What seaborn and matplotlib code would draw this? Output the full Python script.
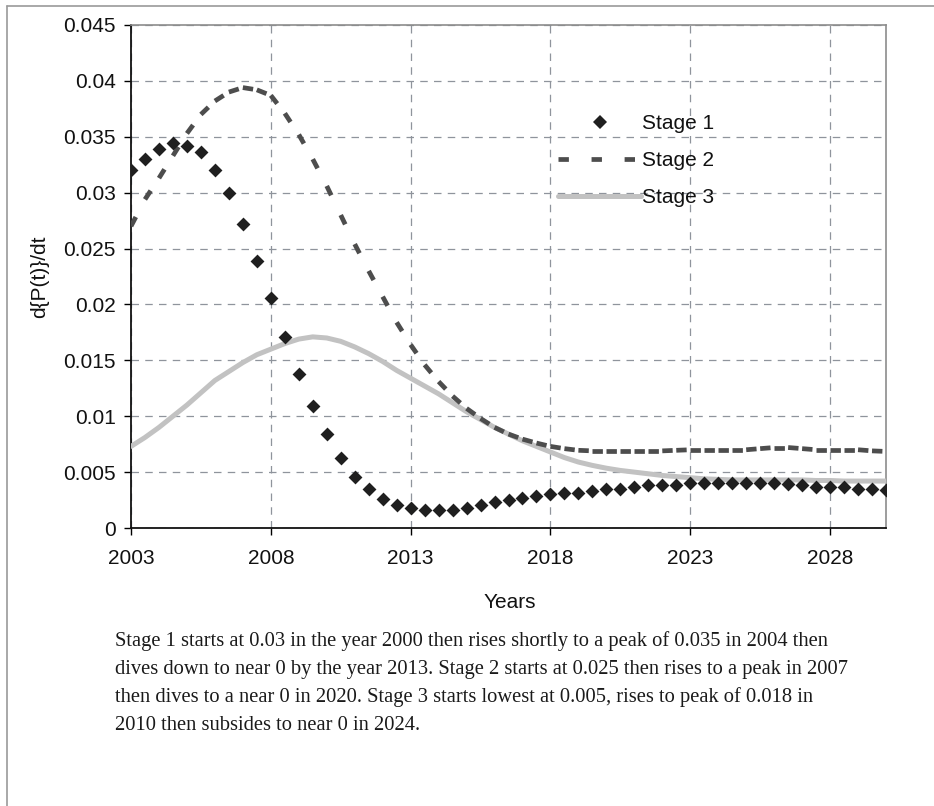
import numpy as np
import pandas as pd
import seaborn as sns
import matplotlib.pyplot as plt
from matplotlib.lines import Line2D
from matplotlib.ticker import FuncFormatter

# half-year points, 2003 .. 2030
years = [2003.0, 2003.5, 2004.0, 2004.5, 2005.0, 2005.5, 2006.0, 2006.5, 2007.0, 2007.5,
         2008.0, 2008.5, 2009.0, 2009.5, 2010.0, 2010.5, 2011.0, 2011.5, 2012.0, 2012.5,
         2013.0, 2013.5, 2014.0, 2014.5, 2015.0, 2015.5, 2016.0, 2016.5, 2017.0, 2017.5,
         2018.0, 2018.5, 2019.0, 2019.5, 2020.0, 2020.5, 2021.0, 2021.5, 2022.0, 2022.5,
         2023.0, 2023.5, 2024.0, 2024.5, 2025.0, 2025.5, 2026.0, 2026.5, 2027.0, 2027.5,
         2028.0, 2028.5, 2029.0, 2029.5, 2030.0]

stage1 = [0.0320, 0.0330, 0.0339, 0.0344, 0.0342, 0.0336, 0.0320, 0.0300, 0.0272, 0.0239,
          0.0206, 0.0171, 0.0138, 0.0109, 0.0084, 0.0063, 0.0046, 0.0035, 0.0026, 0.00205,
          0.0018, 0.0016, 0.0016, 0.0016, 0.0018, 0.0021, 0.00235, 0.0025, 0.00265, 0.00285,
          0.0030, 0.0031, 0.00315, 0.00335, 0.0035, 0.0035, 0.00365, 0.00385, 0.00385, 0.00385,
          0.00405, 0.00405, 0.00405, 0.00405, 0.00405, 0.00405, 0.0040, 0.0039, 0.00385, 0.0037,
          0.0037, 0.00365, 0.0035, 0.0035, 0.0034]

stage2 = [0.0270, 0.0294, 0.0313, 0.0333, 0.0353, 0.0370, 0.0382, 0.0390, 0.0394, 0.0392,
          0.0387, 0.0371, 0.0352, 0.0330, 0.0306, 0.0280, 0.0254, 0.0230, 0.0207, 0.0184,
          0.0164, 0.0146, 0.0131, 0.0118, 0.0107, 0.0098, 0.0090, 0.0084, 0.00795, 0.0076,
          0.0073, 0.0071, 0.00695, 0.0069, 0.0069, 0.0069, 0.0069, 0.0069, 0.0069, 0.00695,
          0.0070, 0.0070, 0.0070, 0.0070, 0.0070, 0.0071, 0.0072, 0.0072, 0.0071, 0.0070,
          0.0070, 0.0070, 0.0070, 0.0069, 0.00685]

stage3 = [0.0073, 0.0081, 0.0090, 0.0100, 0.0110, 0.0121, 0.0132, 0.0140, 0.0148, 0.0155,
          0.0160, 0.0165, 0.0169, 0.0171, 0.0170, 0.0167, 0.0162, 0.0156, 0.0149, 0.0141,
          0.0134, 0.0127, 0.0120, 0.0112, 0.0104, 0.0097, 0.0090, 0.0084, 0.0078, 0.0073,
          0.0068, 0.0063, 0.0059, 0.0056, 0.00535, 0.00515, 0.0050, 0.00485, 0.0047, 0.0046,
          0.0045, 0.0044, 0.00435, 0.0043, 0.0043, 0.0043, 0.0043, 0.0043, 0.0043, 0.00425,
          0.00425, 0.0042, 0.0042, 0.0042, 0.0042]

xticks = [2003, 2008, 2013, 2018, 2023, 2028]
yticks = [0, 0.005, 0.01, 0.015, 0.02, 0.025, 0.03, 0.035, 0.04, 0.045]

caption = [
    "Stage 1 starts at 0.03 in the year 2000 then rises shortly to a peak of 0.035 in 2004 then",
    "dives down to near 0 by the year 2013. Stage 2 starts at 0.025 then rises to a peak in 2007",
    "then dives to a near 0 in 2020. Stage 3 starts lowest at 0.005, rises to peak of 0.018 in",
    "2010 then subsides to near 0 in 2024.",
]

df = pd.DataFrame({"year": years, "s1": stage1, "s2": stage2, "s3": stage3})

sns.set_theme(style="white")
plt.rcParams["font.family"] = ["Liberation Sans", "DejaVu Sans"]

W, H = 934, 806
fig = plt.figure(figsize=(W / 100, H / 100), dpi=100)
ax = fig.add_axes([131 / W, 1 - 528 / H, (886 - 131) / W, (528 - 25) / H])

c1 = "#1f1f1f"
c2 = "#4d4d4d"
c3 = "#c2c2c2"

sns.lineplot(data=df, x="year", y="s3", ax=ax, color=c3, lw=3.6, zorder=3)

# stage 2: dash pattern restarts on every segment, like the original
for i in range(len(df) - 1):
    ax.plot(df["year"][i:i + 2], df["s2"][i:i + 2], color=c2, lw=3.4,
            dashes=(2.2, 4.8), dash_capstyle="butt", zorder=4)

sns.scatterplot(data=df, x="year", y="s1", ax=ax, marker="D", s=50,
                color=c1, linewidth=0, zorder=5)

ax.set_xlim(2003, 2030)
ax.set_ylim(0, 0.045)
ax.set_xticks(xticks)
ax.set_yticks(yticks)
ax.yaxis.set_major_formatter(FuncFormatter(lambda v, p: f"{round(v, 3):g}"))
ax.tick_params(axis="both", direction="out", length=5, width=1, color="black",
               labelsize=15, labelcolor="#111111")
ax.tick_params(axis="x", pad=10)
ax.tick_params(axis="y", pad=6)
ax.tick_params(bottom=True, left=True)

ax.grid(True, color="#8f949c", lw=0.9, dashes=(6, 5))

for s in ["left", "bottom"]:
    ax.spines[s].set_color("#111111")
    ax.spines[s].set_linewidth(1.3)
for s in ["top", "right"]:
    ax.spines[s].set_color("#8c8c8c")
    ax.spines[s].set_linewidth(1.2)

ax.set_xlabel("Years", fontsize=15, color="#111111")
ax.set_ylabel("d{P(t)}/dt", fontsize=15, color="#111111")
ax.xaxis.set_label_coords(0.502, -0.129)
ax.yaxis.set_label_coords(-0.108, 0.5)

handles = [
    Line2D([], [], marker="D", ls="none", ms=7, color=c1, mew=0),
    Line2D([], [], color=c2, lw=3.4, dashes=(2.2, 4.8), dash_capstyle="butt"),
    Line2D([], [], color=c3, lw=3.6),
]
fig.legend(handles, ["Stage 1", "Stage 2", "Stage 3"], loc="upper left",
           bbox_to_anchor=(558 / W, 1 - 114 / H), frameon=False, fontsize=15,
           handlelength=4.0, handletextpad=0.05, labelspacing=0.86,
           borderpad=0, borderaxespad=0, labelcolor="#111111")

for k, line in enumerate(caption):
    fig.text(115 / W, 1 - (646 + 28 * k) / H, line, family=["Liberation Serif", "DejaVu Serif"],
             fontsize=14.8, color="#1a1a1a", va="baseline", ha="left")

# page frame from the scan
fig.add_artist(Line2D([7 / W, 7 / W], [0, 1 - 6 / H], transform=fig.transFigure,
                      color="#9a9a9a", lw=1.2))
fig.add_artist(Line2D([7 / W, 1], [1 - 6 / H, 1 - 6 / H], transform=fig.transFigure,
                      color="#9a9a9a", lw=1.2))

fig.savefig("out.png", dpi=100)
